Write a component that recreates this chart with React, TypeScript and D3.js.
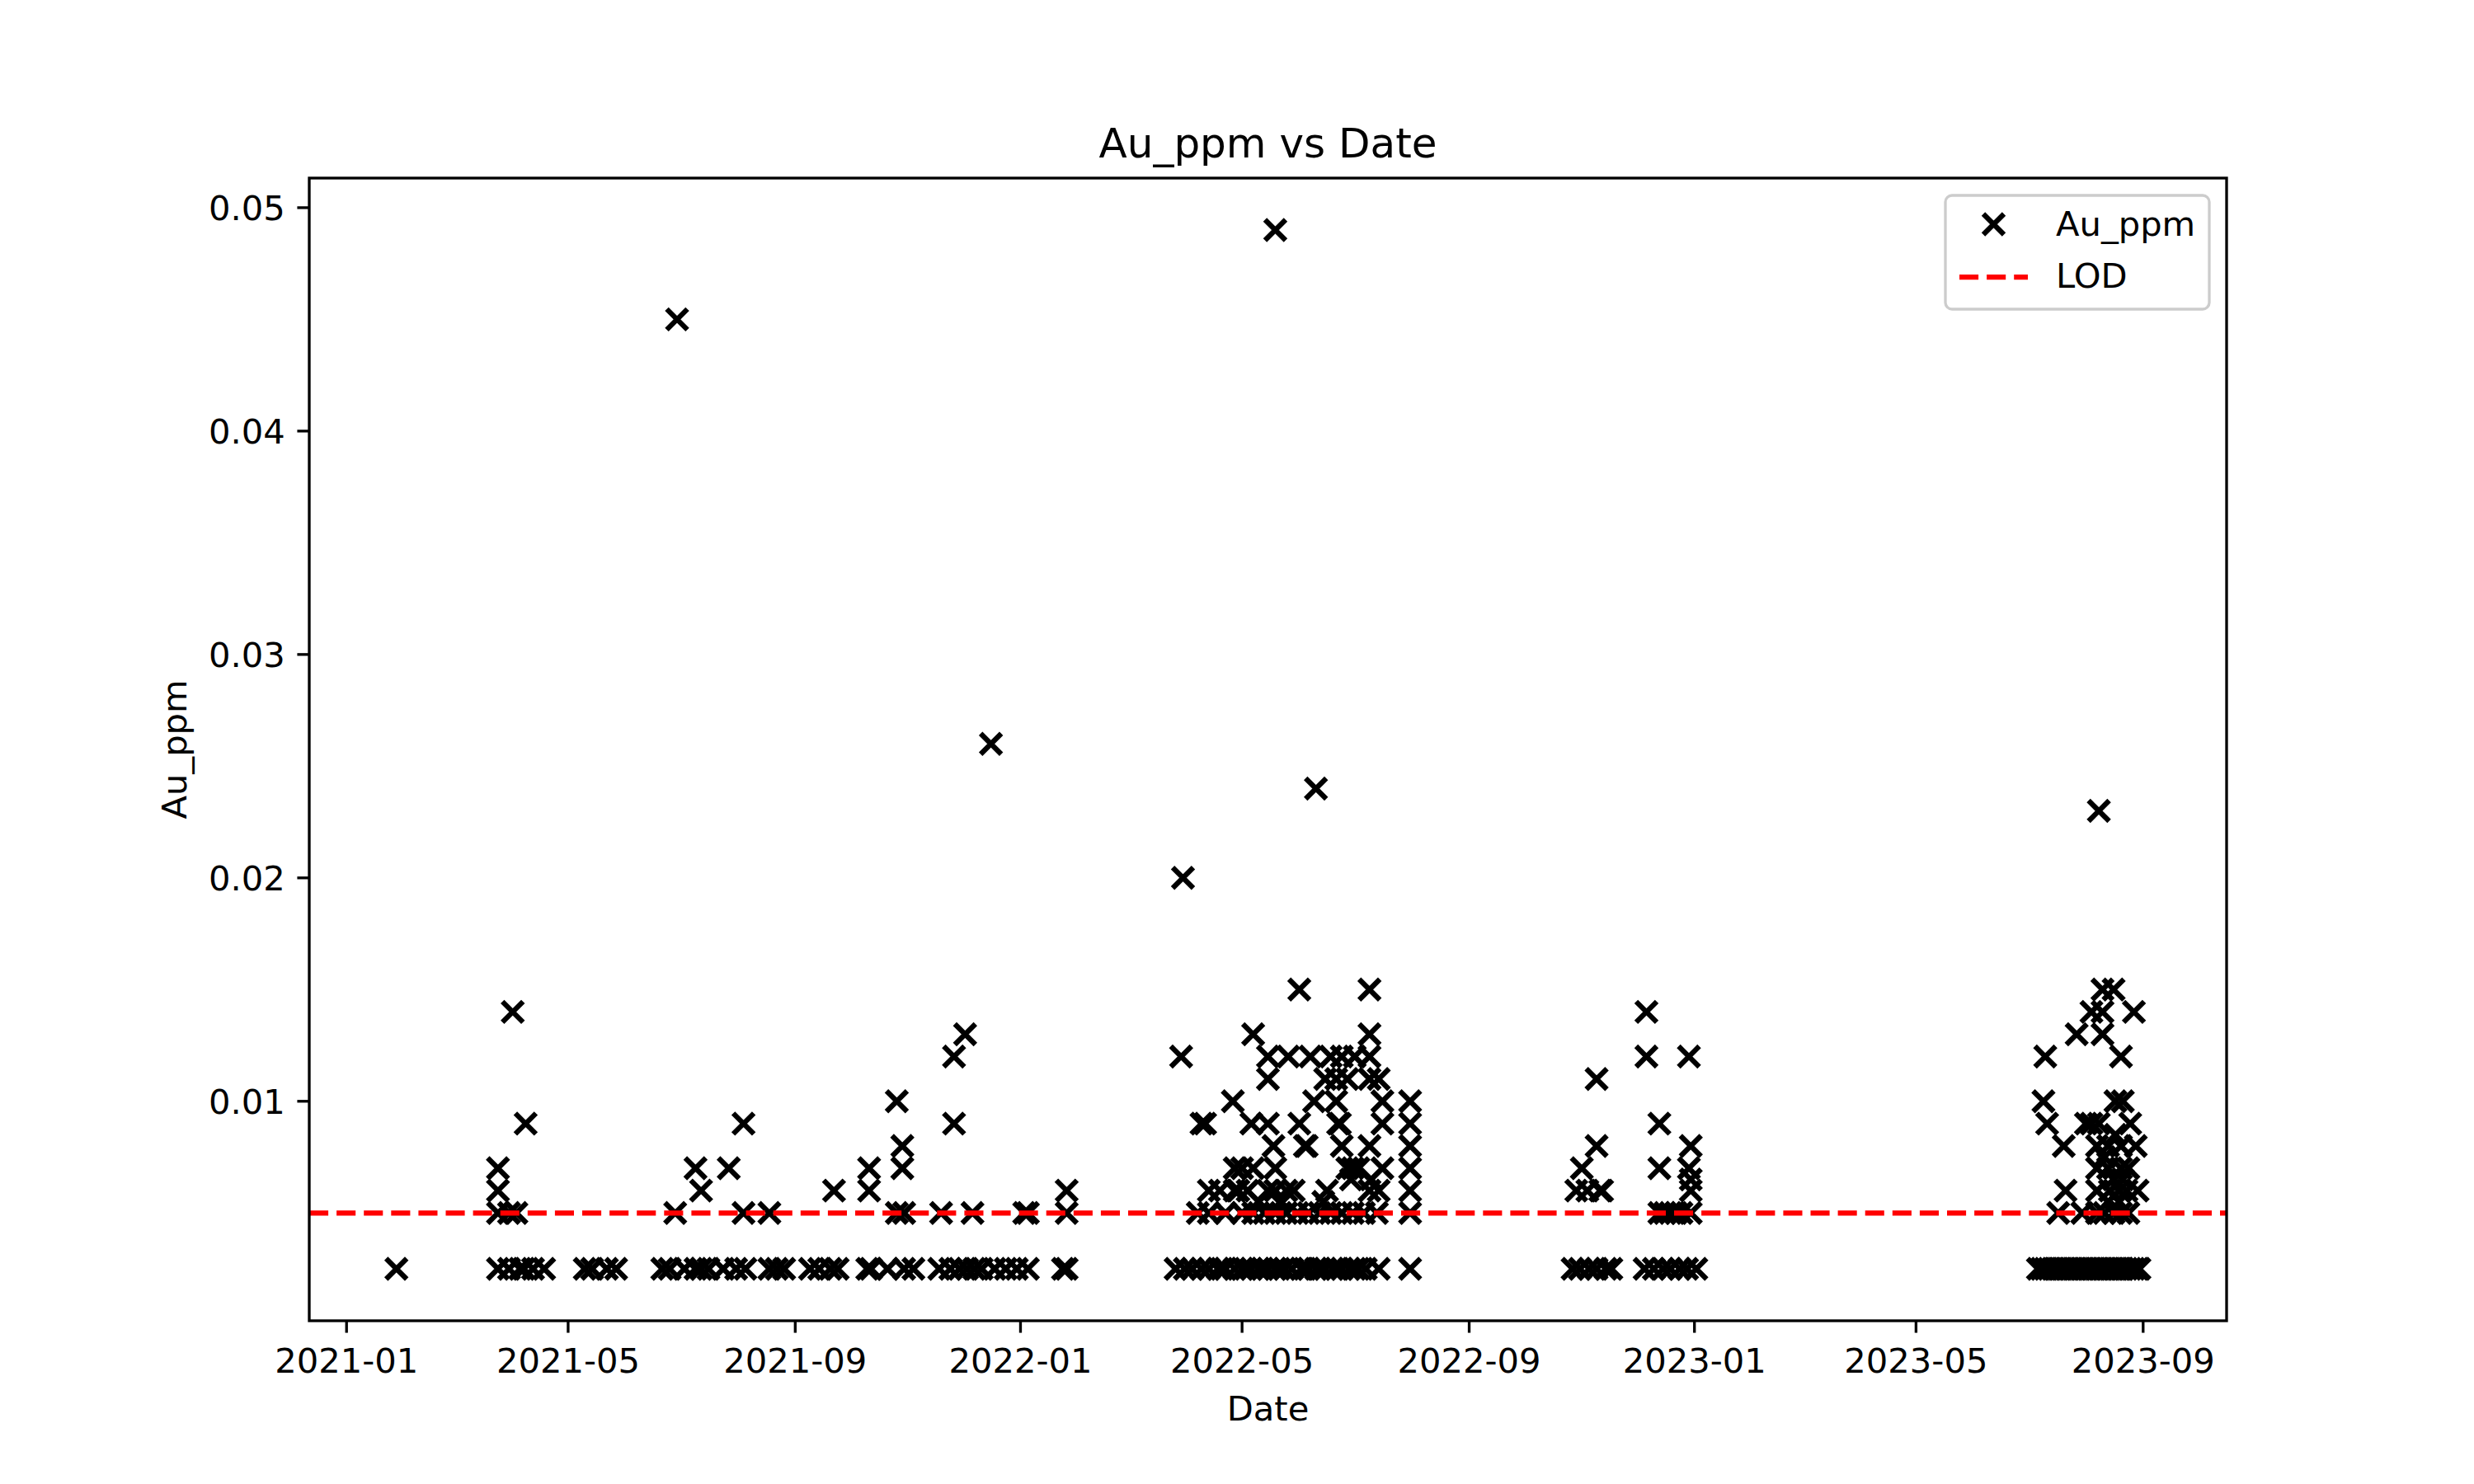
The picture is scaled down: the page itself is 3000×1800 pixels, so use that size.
import * as d3 from "d3";

// ── Data — Au assays (ppm) by sample date ─────────────────────
const LOD = 0.005;
const HALF_LOD = 0.0025; // non-detects plotted at half the detection limit

const BELOW_LOD_DATES: string[] = [
  "2021-01-28", "2021-03-24", "2021-03-30", "2021-04-05", "2021-04-07", "2021-04-12", "2021-04-18",
  "2021-05-10", "2021-05-14", "2021-05-22", "2021-05-27", "2021-06-21", "2021-06-25", "2021-07-03",
  "2021-07-09", "2021-07-12", "2021-07-16", "2021-07-24", "2021-07-31", "2021-08-05", "2021-08-18",
  "2021-08-22", "2021-08-26", "2021-09-09", "2021-09-14", "2021-09-20", "2021-09-24", "2021-10-10",
  "2021-10-12", "2021-10-21", "2021-10-30", "2021-11-04", "2021-11-18", "2021-11-24", "2021-11-29",
  "2021-12-03", "2021-12-07", "2021-12-11", "2021-12-18", "2021-12-24", "2021-12-30",
  "2022-01-05", "2022-01-24", "2022-01-26", "2022-03-26", "2022-03-31", "2022-04-04", "2022-04-09",
  "2022-04-13", "2022-04-18", "2022-04-20", "2022-04-22", "2022-04-27", "2022-05-01", "2022-05-03",
  "2022-05-06", "2022-05-10", "2022-05-12", "2022-05-15", "2022-05-19", "2022-05-21", "2022-05-24",
  "2022-05-28", "2022-06-02", "2022-06-04", "2022-06-06", "2022-06-10", "2022-06-12", "2022-06-15",
  "2022-06-19", "2022-06-21", "2022-06-24", "2022-06-28", "2022-07-01", "2022-07-03", "2022-07-07",
  "2022-07-14", "2022-07-31", "2022-10-27", "2022-10-31", "2022-11-05", "2022-11-09", "2022-11-14",
  "2022-11-17", "2022-12-05", "2022-12-10", "2022-12-15", "2022-12-19", "2022-12-24", "2022-12-28",
  "2023-01-02", "2023-07-06", "2023-07-08", "2023-07-10", "2023-07-12", "2023-07-14", "2023-07-16",
  "2023-07-18", "2023-07-20", "2023-07-22", "2023-07-24", "2023-07-26", "2023-07-28", "2023-07-30",
  "2023-08-01", "2023-08-03", "2023-08-05", "2023-08-07", "2023-08-09", "2023-08-11", "2023-08-13",
  "2023-08-15", "2023-08-17", "2023-08-19", "2023-08-21", "2023-08-23", "2023-08-25", "2023-08-27",
  "2023-08-29", "2023-08-30",
];

const DETECTS_2021: [string, number][] = [
  ["2021-03-24", 0.007], ["2021-03-24", 0.006], ["2021-03-24", 0.005], ["2021-03-30", 0.005],
  ["2021-04-01", 0.014], ["2021-04-03", 0.005], ["2021-04-08", 0.009], ["2021-06-28", 0.005],
  ["2021-06-29", 0.045], ["2021-07-09", 0.007], ["2021-07-12", 0.006], ["2021-07-27", 0.007],
  ["2021-08-04", 0.009], ["2021-08-04", 0.005], ["2021-08-18", 0.005], ["2021-09-22", 0.006],
  ["2021-10-11", 0.007], ["2021-10-11", 0.006], ["2021-10-26", 0.01], ["2021-10-26", 0.005],
  ["2021-10-29", 0.008], ["2021-10-29", 0.007], ["2021-10-30", 0.005], ["2021-11-19", 0.005],
  ["2021-11-26", 0.012], ["2021-11-26", 0.009], ["2021-12-02", 0.013], ["2021-12-06", 0.005],
  ["2021-12-16", 0.026], ["2022-01-03", 0.005], ["2022-01-05", 0.005], ["2022-01-26", 0.006],
  ["2022-01-26", 0.005],
];

const DETECTS_2022_MID: [string, number][] = [
  ["2022-03-29", 0.012], ["2022-03-30", 0.02], ["2022-04-09", 0.009], ["2022-04-11", 0.009],
  ["2022-04-26", 0.01], ["2022-05-07", 0.013], ["2022-05-15", 0.012], ["2022-05-15", 0.011],
  ["2022-05-19", 0.049], ["2022-05-26", 0.012], ["2022-06-01", 0.015], ["2022-06-07", 0.012],
  ["2022-06-10", 0.024], ["2022-06-18", 0.012], ["2022-06-24", 0.012], ["2022-07-01", 0.012],
  ["2022-07-09", 0.012], ["2022-07-09", 0.015], ["2022-07-09", 0.013],
  ["2022-06-15", 0.011], ["2022-06-21", 0.011], ["2022-06-27", 0.011], ["2022-07-09", 0.011],
  ["2022-07-14", 0.011],
  ["2022-06-09", 0.01], ["2022-06-21", 0.01], ["2022-07-16", 0.01], ["2022-07-31", 0.01],
  ["2022-05-06", 0.009], ["2022-05-15", 0.009], ["2022-06-01", 0.009], ["2022-06-22", 0.009],
  ["2022-06-23", 0.009], ["2022-07-16", 0.009], ["2022-07-31", 0.009],
  ["2022-05-18", 0.008], ["2022-06-04", 0.008], ["2022-06-05", 0.008], ["2022-06-24", 0.008],
  ["2022-07-09", 0.008], ["2022-07-31", 0.008],
  ["2022-04-27", 0.007], ["2022-05-01", 0.007], ["2022-05-07", 0.007], ["2022-05-19", 0.007],
  ["2022-06-27", 0.007], ["2022-06-30", 0.007], ["2022-07-03", 0.007], ["2022-07-16", 0.007],
  ["2022-07-31", 0.007],
  ["2022-04-13", 0.006], ["2022-04-19", 0.006], ["2022-04-27", 0.006], ["2022-04-29", 0.006],
  ["2022-05-04", 0.006], ["2022-05-15", 0.006], ["2022-05-19", 0.006], ["2022-05-25", 0.006],
  ["2022-05-29", 0.006], ["2022-06-16", 0.006], ["2022-07-09", 0.006], ["2022-07-14", 0.006],
  ["2022-07-31", 0.006],
  ["2022-05-10", 0.0055], ["2022-05-22", 0.0055], ["2022-06-14", 0.0055], ["2022-06-29", 0.0065],
  ["2022-07-10", 0.0065],
  ["2022-04-07", 0.005], ["2022-04-13", 0.005], ["2022-04-22", 0.005], ["2022-05-01", 0.005],
  ["2022-05-07", 0.005], ["2022-05-13", 0.005], ["2022-05-19", 0.005], ["2022-05-25", 0.005],
  ["2022-05-31", 0.005], ["2022-06-06", 0.005], ["2022-06-12", 0.005], ["2022-06-18", 0.005],
  ["2022-06-24", 0.005], ["2022-06-30", 0.005], ["2022-07-06", 0.005], ["2022-07-13", 0.005],
  ["2022-07-31", 0.005],
];

const DETECTS_2022_END: [string, number][] = [
  ["2022-10-29", 0.006], ["2022-11-01", 0.007], ["2022-11-04", 0.006], ["2022-11-09", 0.011],
  ["2022-11-09", 0.008], ["2022-11-11", 0.006], ["2022-11-12", 0.006], ["2022-12-06", 0.014],
  ["2022-12-06", 0.012], ["2022-12-13", 0.009], ["2022-12-13", 0.007], ["2022-12-13", 0.005],
  ["2022-12-16", 0.005], ["2022-12-19", 0.005], ["2022-12-22", 0.005], ["2022-12-25", 0.005],
  ["2022-12-30", 0.005], ["2022-12-29", 0.012], ["2022-12-29", 0.007], ["2022-12-30", 0.008],
  ["2022-12-30", 0.0065], ["2022-12-30", 0.006],
];

const DETECTS_2023: [string, number][] = [
  ["2023-07-09", 0.01], ["2023-07-10", 0.012], ["2023-07-11", 0.009], ["2023-07-17", 0.005],
  ["2023-07-20", 0.008], ["2023-07-21", 0.006], ["2023-07-27", 0.013], ["2023-07-30", 0.005],
  ["2023-08-01", 0.009], ["2023-08-04", 0.014], ["2023-08-04", 0.009], ["2023-08-07", 0.008],
  ["2023-08-07", 0.007], ["2023-08-07", 0.006], ["2023-08-07", 0.005], ["2023-08-08", 0.023],
  ["2023-08-08", 0.009], ["2023-08-10", 0.015], ["2023-08-10", 0.014], ["2023-08-10", 0.013],
  ["2023-08-11", 0.005], ["2023-08-11", 0.0075], ["2023-08-13", 0.008], ["2023-08-13", 0.007],
  ["2023-08-13", 0.0055], ["2023-08-14", 0.006], ["2023-08-16", 0.015], ["2023-08-16", 0.005],
  ["2023-08-16", 0.0065], ["2023-08-17", 0.01], ["2023-08-17", 0.0085], ["2023-08-19", 0.006],
  ["2023-08-19", 0.0055], ["2023-08-20", 0.012], ["2023-08-20", 0.008], ["2023-08-20", 0.007],
  ["2023-08-20", 0.005], ["2023-08-21", 0.01], ["2023-08-21", 0.0065], ["2023-08-23", 0.006],
  ["2023-08-24", 0.007], ["2023-08-24", 0.005], ["2023-08-25", 0.009], ["2023-08-27", 0.014],
  ["2023-08-28", 0.008], ["2023-08-29", 0.006],
];

const X_TICKS = ["2021-01", "2021-05", "2021-09", "2022-01", "2022-05", "2022-09", "2023-01", "2023-05", "2023-09"];
const Y_TICKS = [0.01, 0.02, 0.03, 0.04, 0.05];

// ── Figure geometry (matplotlib 10x6 in @ 300 dpi) ────────────
const W = 3000;
const H = 1800;
const AX = { left: 375, right: 2700, top: 216, bottom: 1602 };
const FONT = "DejaVu Sans, sans-serif";
const FS = 41.67;       // 10 pt
const TICK_LEN = 14.58; // 3.5 pt
const LW_AX = 3.33;     // 0.8 pt
const LW = 6.25;        // 1.5 pt
const MS = 12.5;        // half marker size (6 pt)
const DASH = "23.1 10";

const parseDay = d3.utcParse("%Y-%m-%d");
const parseMonth = d3.utcParse("%Y-%m");

interface Sample { date: Date; au: number }

const SAMPLES: Sample[] = [
  ...BELOW_LOD_DATES.map((d) => ({ date: parseDay(d) as Date, au: HALF_LOD })),
  ...[...DETECTS_2021, ...DETECTS_2022_MID, ...DETECTS_2022_END, ...DETECTS_2023].map(
    ([d, v]) => ({ date: parseDay(d) as Date, au: v })
  ),
];

// matplotlib-style 5% margins
function padded([a, b]: [number, number]): [number, number] {
  const m = (b - a) * 0.05;
  return [a - m, b + m];
}

const xExt = d3.extent(SAMPLES, (d) => +d.date) as [number, number];
const yExt = d3.extent(SAMPLES, (d) => d.au) as [number, number];
const xDom = padded(xExt);

const x = d3.scaleUtc().domain([new Date(xDom[0]), new Date(xDom[1])]).range([AX.left, AX.right]);
const y = d3.scaleLinear().domain(padded(yExt)).range([AX.bottom, AX.top]);

function Cross({ cx, cy }: { cx: number; cy: number }) {
  return (
    <path
      d={`M${cx - MS},${cy - MS}L${cx + MS},${cy + MS}M${cx - MS},${cy + MS}L${cx + MS},${cy - MS}`}
      stroke="#000"
      strokeWidth={LW}
      fill="none"
    />
  );
}

export default function App() {
  const lodY = y(LOD);
  const lg = { x: 2359, y: 237, w: 320, h: 138 };

  return (
    <svg
      width={W}
      height={H}
      viewBox={`0 0 ${W} ${H}`}
      style={{ position: "absolute", left: 0, top: 0, background: "#fff" }}
      fontFamily={FONT}
    >
      <rect x={0} y={0} width={W} height={H} fill="#fff" />

      {/* Title */}
      <text x={(AX.left + AX.right) / 2} y={191} textAnchor="middle" fontSize={50}>
        Au_ppm vs Date
      </text>

      <defs>
        <clipPath id="ax-clip">
          <rect x={AX.left} y={AX.top} width={AX.right - AX.left} height={AX.bottom - AX.top} />
        </clipPath>
      </defs>

      {/* Scatter */}
      <g clipPath="url(#ax-clip)">
        {SAMPLES.map((d, i) => (
          <Cross key={i} cx={x(d.date)} cy={y(d.au)} />
        ))}
        {/* Detection limit */}
        <line
          x1={AX.left}
          x2={AX.right}
          y1={lodY}
          y2={lodY}
          stroke="#ff0000"
          strokeWidth={LW}
          strokeDasharray={DASH}
        />
      </g>

      {/* Axes frame */}
      <rect
        x={AX.left}
        y={AX.top}
        width={AX.right - AX.left}
        height={AX.bottom - AX.top}
        fill="none"
        stroke="#000"
        strokeWidth={LW_AX}
      />

      {/* X ticks */}
      {X_TICKS.map((t) => {
        const px = x(parseMonth(t) as Date);
        return (
          <g key={t}>
            <line x1={px} x2={px} y1={AX.bottom} y2={AX.bottom + TICK_LEN} stroke="#000" strokeWidth={LW_AX} />
            <text x={px} y={1665} textAnchor="middle" fontSize={FS}>
              {t}
            </text>
          </g>
        );
      })}

      {/* Y ticks */}
      {Y_TICKS.map((t) => {
        const py = y(t);
        return (
          <g key={t}>
            <line x1={AX.left - TICK_LEN} x2={AX.left} y1={py} y2={py} stroke="#000" strokeWidth={LW_AX} />
            <text x={AX.left - 2 * TICK_LEN} y={py} dy="0.36em" textAnchor="end" fontSize={FS}>
              {d3.format(".2f")(t)}
            </text>
          </g>
        );
      })}

      {/* Axis labels */}
      <text x={(AX.left + AX.right) / 2} y={1723} textAnchor="middle" fontSize={FS}>
        Date
      </text>
      <text
        transform={`translate(226, ${(AX.top + AX.bottom) / 2}) rotate(-90)`}
        textAnchor="middle"
        fontSize={FS}
      >
        Au_ppm
      </text>

      {/* Legend */}
      <rect
        x={lg.x}
        y={lg.y}
        width={lg.w}
        height={lg.h}
        rx={8}
        fill="#fff"
        fillOpacity={0.8}
        stroke="#cccccc"
        strokeWidth={LW_AX}
      />
      <Cross cx={2417.5} cy={272} />
      <text x={2493} y={286} fontSize={FS}>Au_ppm</text>
      <line x1={2376} x2={2459} y1={336} y2={336} stroke="#ff0000" strokeWidth={LW} strokeDasharray={DASH} />
      <text x={2493} y={349} fontSize={FS}>LOD</text>
    </svg>
  );
}
